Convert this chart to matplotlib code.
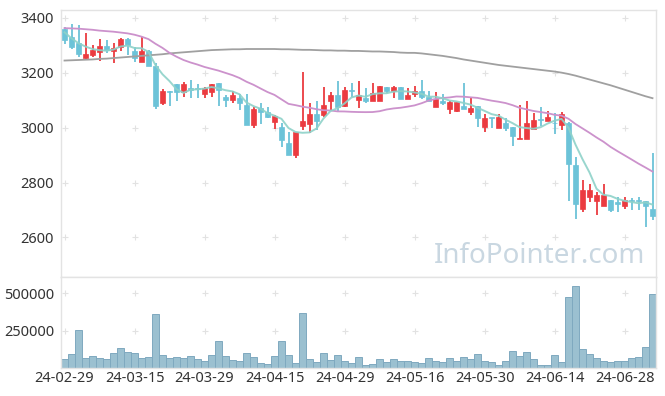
import matplotlib
matplotlib.use("Agg")
import matplotlib.pyplot as plt
import numpy as np
import pandas as pd

plt.rcParams['font.family'] = ['Noto Sans', 'DejaVu Sans']

dates = ["24-02-29",
         "24-03-04", "24-03-05", "24-03-06", "24-03-07", "24-03-08", "24-03-11", "24-03-12", "24-03-13",
         "24-03-14", "24-03-15", "24-03-18", "24-03-19", "24-03-20", "24-03-21", "24-03-22", "24-03-25",
         "24-03-26", "24-03-27", "24-03-28", "24-03-29",
         "24-04-01", "24-04-02", "24-04-03", "24-04-04", "24-04-05", "24-04-08", "24-04-09", "24-04-11",
         "24-04-12", "24-04-15", "24-04-16", "24-04-17", "24-04-18", "24-04-19", "24-04-22", "24-04-23",
         "24-04-24", "24-04-25", "24-04-26", "24-04-29", "24-04-30",
         "24-05-02", "24-05-03", "24-05-07", "24-05-08", "24-05-09", "24-05-10", "24-05-13", "24-05-14",
         "24-05-16", "24-05-17", "24-05-20", "24-05-21", "24-05-22", "24-05-23", "24-05-24", "24-05-27",
         "24-05-28", "24-05-29", "24-05-30", "24-05-31",
         "24-06-03", "24-06-04", "24-06-05", "24-06-07", "24-06-10", "24-06-11", "24-06-12", "24-06-13",
         "24-06-14", "24-06-17", "24-06-18", "24-06-19", "24-06-20", "24-06-21", "24-06-24", "24-06-25",
         "24-06-26", "24-06-27", "24-06-28",
         "24-07-01", "24-07-02", "24-07-03", "24-07-04"]

open_ = [3359, 3331, 3307, 3255, 3266, 3276, 3297, 3280, 3295, 3322,
         3280, 3237, 3280, 3225, 3089, 3133, 3158, 3131, 3143, 3144,
         3122, 3131, 3162, 3112, 3102, 3109, 3083, 3010, 3071, 3056,
         3022, 3001, 2943, 2901, 3006, 3013, 3050, 3046, 3095, 3119,
         3080, 3136, 3101, 3107, 3095, 3095, 3147, 3134, 3147, 3105,
         3121, 3134, 3112, 3076, 3098, 3068, 3062, 3079, 3055, 3078,
         3001, 3035, 2999, 3018, 3002, 2958, 2960, 2994, 3028, 3025,
         3016, 3011, 3016, 2864, 2702, 2747, 2734, 2716, 2737, 2729,
         2716, 2735, 2735, 2731, 2703]
high = [3365, 3377, 3375, 3346, 3301, 3322, 3317, 3307, 3325, 3325,
        3295, 3331, 3284, 3234, 3140, 3134, 3158, 3167, 3172, 3158,
        3146, 3160, 3163, 3119, 3134, 3122, 3123, 3076, 3089, 3076,
        3046, 3018, 2985, 2985, 3201, 3090, 3096, 3146, 3130, 3171,
        3147, 3163, 3171, 3143, 3162, 3152, 3147, 3152, 3147, 3143,
        3152, 3174, 3133, 3129, 3122, 3095, 3093, 3162, 3107, 3078,
        3049, 3035, 3050, 3034, 3003, 3084, 3097, 3054, 3076, 3062,
        3052, 3058, 3020, 2894, 2810, 2793, 2767, 2794, 2737, 2749,
        2747, 2743, 2746, 2731, 2907]
low = [3305, 3285, 3256, 3251, 3256, 3244, 3273, 3234, 3280, 3266,
       3239, 3237, 3225, 3067, 3083, 3080, 3097, 3111, 3109, 3107,
       3107, 3111, 3079, 3076, 3089, 3063, 3010, 2998, 3012, 3034,
       2995, 2931, 2901, 2889, 2992, 2980, 2992, 3038, 3060, 3056,
       3076, 3112, 3071, 3089, 3095, 3095, 3125, 3107, 3105, 3105,
       3112, 3105, 3095, 3076, 3083, 3050, 3055, 3068, 3046, 3001,
       2984, 3000, 2999, 2989, 2932, 2958, 2960, 2994, 3006, 3025,
       2977, 2992, 2732, 2667, 2692, 2730, 2681, 2716, 2694, 2691,
       2704, 2700, 2700, 2638, 2665]
close = [3317, 3293, 3268, 3268, 3283, 3297, 3283, 3290, 3322, 3300,
         3253, 3279, 3225, 3079, 3134, 3129, 3131, 3159, 3136, 3141,
         3143, 3159, 3135, 3102, 3119, 3091, 3010, 3068, 3055, 3040,
         3043, 2953, 2901, 2983, 3025, 3050, 3024, 3083, 3119, 3076,
         3137, 3133, 3119, 3095, 3125, 3152, 3134, 3147, 3105, 3119,
         3134, 3110, 3095, 3104, 3091, 3093, 3093, 3068, 3073, 3034,
         3036, 3034, 3040, 3000, 2971, 2963, 3017, 3028, 3027, 3038,
         3015, 3050, 2866, 2721, 2773, 2773, 2755, 2755, 2700, 2720,
         2737, 2733, 2733, 2716, 2679]
volume = [58000, 92000, 252000, 65000, 78000, 65000, 58000, 98000, 132000, 105000,
          98000, 65000, 71000, 359000, 85000, 65000, 71000, 65000, 78000, 58000,
          45000, 85000, 179000, 78000, 51000, 45000, 98000, 71000, 31000, 25000,
          78000, 179000, 85000, 31000, 366000, 58000, 38000, 98000, 51000, 85000,
          45000, 31000, 71000, 18000, 25000, 58000, 38000, 58000, 45000, 45000,
          38000, 31000, 65000, 45000, 38000, 65000, 45000, 71000, 58000, 92000,
          45000, 38000, 18000, 45000, 112000, 78000, 105000, 58000, 18000, 18000,
          85000, 38000, 473000, 547000, 125000, 92000, 65000, 45000, 38000, 45000,
          45000, 65000, 71000, 138000, 493000]

# moving-average values before enough in-window closes exist
ma5_head = [3347, 3325, 3307, 3295]
ma20_head = [3362, 3361, 3360, 3358, 3356, 3353, 3351, 3349, 3346, 3343,
             3338, 3331, 3322, 3305, 3290, 3272, 3258, 3246, 3237]
ma120 = [3244, 3245, 3246, 3247, 3248, 3250, 3251, 3253, 3255, 3257,
         3259, 3261, 3263, 3265, 3267, 3270, 3272, 3274, 3276, 3278,
         3280, 3282, 3283, 3284, 3285, 3285, 3286, 3286, 3286, 3286,
         3286, 3285, 3285, 3284, 3283, 3283, 3282, 3281, 3281, 3280,
         3280, 3279, 3279, 3278, 3277, 3277, 3276, 3275, 3273, 3272,
         3272, 3270, 3267, 3264, 3261, 3257, 3253, 3248, 3244, 3240,
         3236, 3232, 3228, 3225, 3222, 3219, 3216, 3213, 3210, 3207,
         3204, 3200, 3195, 3189, 3182, 3175, 3168, 3161, 3154, 3146,
         3138, 3130, 3122, 3114, 3107]

price_ticks = [2600, 2800, 3000, 3200, 3400]
vol_ticks = [250000, 500000]

RED = '#eb3b40'
BLUE = '#6cc3d8'

o = np.array(open_, float)
h = np.array(high, float)
l = np.array(low, float)
c = np.array(close, float)
v = np.array(volume, float)
x = np.arange(len(dates))

cs = pd.Series(c)
ma5 = cs.rolling(5).mean().to_numpy()
ma5[:len(ma5_head)] = ma5_head
ma20 = cs.rolling(20).mean().to_numpy()
ma20[:len(ma20_head)] = ma20_head

W, H = 665, 396
fig = plt.figure(figsize=(W / 100, H / 100), dpi=100)
fig.patch.set_facecolor('white')

left = 61 / W
right = 656 / W
ax = fig.add_axes([left, 1 - 277.3 / H, right - left, (277.3 - 10) / H])
axv = fig.add_axes([left, 1 - 368 / H, right - left, (368 - 277.3) / H])

up = c >= o
colors = np.where(up, RED, BLUE)
body_bot = np.minimum(o, c)
body_h = np.maximum(np.abs(c - o), 3.0)

ax.vlines(x, l, h, colors=colors, linewidth=1.3, zorder=2)
ax.bar(x, body_h, bottom=body_bot, width=0.72, color=colors, edgecolor=colors,
       linewidth=0.5, zorder=3)

ax.plot(x, ma120, color='#a0a0a0', linewidth=1.3, zorder=4)
ax.plot(x, ma20, color='#cc92cc', linewidth=1.3, zorder=4)
ax.plot(x, ma5, color='#8ed2c9', linewidth=1.4, zorder=4, alpha=0.9)

ax.set_xlim(-0.5, len(x) - 0.5)
ax.set_ylim(2455, 3428)

tick_idx = list(range(0, len(dates), 10))

for a in (ax, axv):
    for s in a.spines.values():
        s.set_color('#e3e3e3')
        s.set_linewidth(1)
    a.tick_params(length=0, colors='#333333', labelsize=10.5)

# grid crosses
gx, gy = np.meshgrid(tick_idx, price_ticks)
ax.scatter(gx.ravel(), gy.ravel(), marker='+', s=18, color='#e2e2e2', linewidths=0.8, zorder=1)
ax.set_yticks(price_ticks)
ax.set_xticks([])
ax.tick_params(axis='y', pad=5)

ax.text(0.805, 0.078, 'InfoPointer.com', transform=ax.transAxes, ha='center', va='center',
        fontsize=20, color='#c9d7e1', zorder=5)

axv.bar(x, v, width=0.88, color='#9bc0d0', edgecolor='#7fa9bf', linewidth=0.7, zorder=2)
gx2, gy2 = np.meshgrid(tick_idx, vol_ticks)
axv.scatter(gx2.ravel(), gy2.ravel(), marker='+', s=18, color='#e2e2e2', linewidths=0.8, zorder=1)
axv.set_xlim(-0.5, len(x) - 0.5)
axv.set_ylim(0, 606000)
axv.set_yticks(vol_ticks)
axv.set_yticklabels([str(t) for t in vol_ticks])
axv.set_xticks(tick_idx)
axv.set_xticklabels([dates[i] for i in tick_idx])
axv.tick_params(axis='y', pad=5)
axv.tick_params(axis='x', pad=2)

fig.savefig('out.png', dpi=100, facecolor='white')
